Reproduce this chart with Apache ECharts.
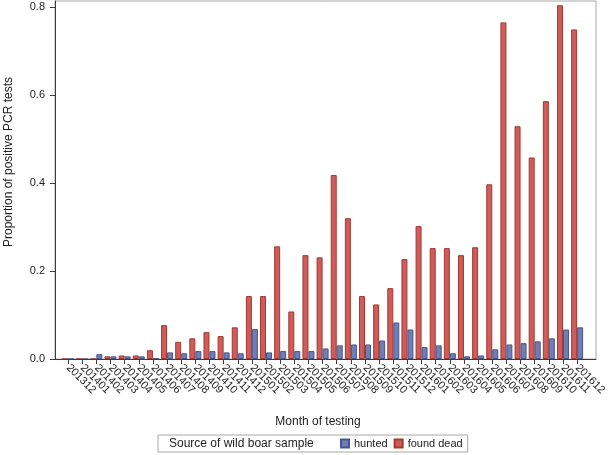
<!DOCTYPE html>
<html>
<head>
<meta charset="utf-8">
<script src="https://cdn.jsdelivr.net/npm/echarts@6/dist/echarts.min.js"></script>
<style>
html,body{margin:0;padding:0;background:#fff;}
#chart{width:609px;height:455px;}
</style>
</head>
<body>
<div id="chart"></div>
<script>
const categories = ['201312','201401','201402','201403','201404','201405','201406','201407','201408','201409','201410','201411','201412',
  '201501','201502','201503','201504','201505','201506','201507','201508','201509','201510','201511','201512',
  '201601','201602','201603','201604','201605','201606','201607','201608','201609','201610','201611','201612'];
const foundDead = [0,0,0,0.006,0.008,0.008,0.020,0.077,0.039,0.047,0.061,0.052,0.072,
  0.143,0.143,0.256,0.108,0.236,0.231,0.418,0.320,0.143,0.124,0.161,0.227,
  0.302,0.252,0.252,0.236,0.254,0.397,0.765,0.529,0.458,0.586,0.804,0.749];
const hunted = [0,0,0.011,0.006,0.006,0.006,0.002,0.015,0.013,0.018,0.018,0.015,0.013,
  0.068,0.015,0.018,0.018,0.018,0.024,0.031,0.033,0.033,0.042,0.083,0.067,
  0.027,0.031,0.013,0.006,0.008,0.022,0.033,0.036,0.040,0.047,0.067,0.072];
const yTicks = [0, 0.2, 0.4, 0.6, 0.8];
const yMax = 0.8136;
const seriesNames = ['hunted', 'found dead'];
const legendTitle = 'Source of wild boar sample';
const xTitle = 'Month of testing';
const yTitle = 'Proportion of positive PCR tests';

const font = 'Liberation Sans, Arial, sans-serif';
const textColor = '#222';
const axisColor = '#3c3c3c';

const chart = echarts.init(document.getElementById('chart'), null, {renderer: 'canvas'});
chart.setOption({
  animation: false,
  backgroundColor: '#fff',
  textStyle: {fontFamily: font},
  grid: [
    {left: 61, right: 19, top: 1, bottom: 96, containLabel: false},
    {left: 55, right: 13, top: 1, bottom: 96, containLabel: false, show: true, borderColor: '#a8a8a8', borderWidth: 1, backgroundColor: 'transparent'}
  ],
  xAxis: [
    {
      type: 'category', gridIndex: 0, data: categories, boundaryGap: true,
      axisLine: {show: false},
      axisTick: {show: true, alignWithLabel: true, length: 5, lineStyle: {color: axisColor}},
      axisLabel: {rotate: -45, interval: 0, fontSize: 11, color: textColor, fontFamily: font, margin: 7},
      splitLine: {show: false}
    },
    {
      type: 'value', gridIndex: 1, min: 0, max: 1, z: 10,
      axisLine: {show: true, lineStyle: {color: axisColor, width: 1}},
      axisTick: {show: false}, axisLabel: {show: false}, splitLine: {show: false}
    }
  ],
  yAxis: [
    {
      type: 'value', gridIndex: 0, min: 0, max: yMax,
      axisLine: {show: false}, axisTick: {show: false}, axisLabel: {show: false}, splitLine: {show: false}
    },
    {
      type: 'value', gridIndex: 1, min: 0, max: yMax, interval: 0.2, z: 10,
      axisLine: {show: true, lineStyle: {color: axisColor, width: 1}},
      axisTick: {show: true, length: 5, customValues: yTicks, lineStyle: {color: axisColor}},
      axisLabel: {show: true, customValues: yTicks, fontSize: 11, color: textColor, fontFamily: font, margin: 10,
        formatter: v => v.toFixed(1)},
      splitLine: {show: false}
    }
  ],
  legend: {
    data: seriesNames,
    left: 158, top: 435,
    orient: 'horizontal',
    itemWidth: 8, itemHeight: 8, itemGap: 6,
    icon: 'rect',
    borderColor: '#a8a8a8', borderWidth: 1, borderRadius: 0,
    padding: [3, 5, 3, 182],
    textStyle: {fontSize: 11, color: textColor, fontFamily: font}
  },
  graphic: [
    {type: 'text', x: 169, y: 444, style: {text: legendTitle, font: '12px ' + font, fill: textColor, textAlign: 'left', textVerticalAlign: 'middle'}},
    {type: 'text', x: 318, y: 422, style: {text: xTitle, font: '12px ' + font, fill: textColor, textAlign: 'center', textVerticalAlign: 'middle'}},
    {type: 'text', x: 9, y: 162, rotation: Math.PI / 2, style: {text: yTitle, font: '12px ' + font, fill: textColor, textAlign: 'center', textVerticalAlign: 'middle'}}
  ],
  series: [
    {
      name: 'found dead', type: 'bar', xAxisIndex: 0, yAxisIndex: 0, data: foundDead,
      barWidth: 6, barGap: '0%', z: 3,
      itemStyle: {color: '#D05B5B', borderColor: '#A23A2E', borderWidth: 1}
    },
    {
      name: 'hunted', type: 'bar', xAxisIndex: 0, yAxisIndex: 0, data: hunted,
      barWidth: 6, barGap: '0%', z: 3,
      itemStyle: {color: '#6F7EB3', borderColor: '#445694', borderWidth: 1}
    }
  ]
});
</script>
</body>
</html>
